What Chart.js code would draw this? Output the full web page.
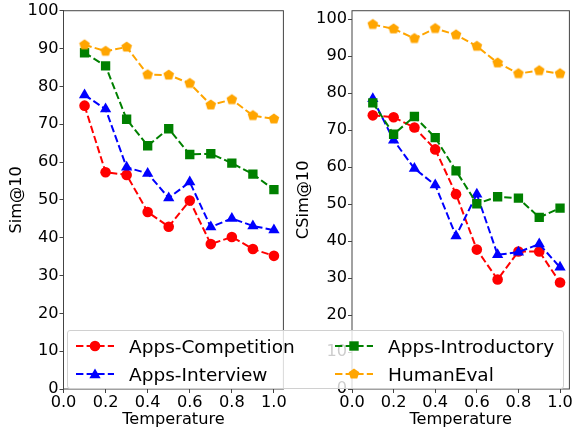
<!DOCTYPE html>
<html lang="en">
<head>
    <meta charset="UTF-8">
    <title>Sim@10 / CSim@10 vs Temperature</title>
    <script src="https://cdn.jsdelivr.net/npm/chart.js"></script>
    <style>
        * { margin: 0; padding: 0; box-sizing: border-box; }
        body { width: 576px; height: 432px; background: #fff; position: relative; overflow: hidden;
               font-family: 'DejaVu Sans', sans-serif; }
        .plot { position: absolute; top: 0; height: 432px; }
        #leftWrap { left: 0; width: 290px; }
        #rightWrap { left: 290px; width: 286px; }
        #legend {
            position: absolute; left: 67px; top: 330px; width: 497px; height: 59px;
            background: rgba(255,255,255,0.8); border: 1px solid #d0d0d0; border-radius: 3px;
        }
        .entry { position: absolute; height: 24px; display: flex; align-items: center; }
        .entry span { font-size: 18.5px; color: #000; margin-left: 15px; white-space: nowrap; }
    </style>
</head>
<body>
    <div class="plot" id="leftWrap"><canvas id="simChart" width="290" height="432"></canvas></div>
    <div class="plot" id="rightWrap"><canvas id="csimChart" width="286" height="432"></canvas></div>
    <div id="legend"></div>

    <script>
        // data
        const temperatures = [0.1, 0.2, 0.3, 0.4, 0.5, 0.6, 0.7, 0.8, 0.9, 1.0];
        const seriesNames = ['Apps-Competition', 'Apps-Interview', 'Apps-Introductory', 'HumanEval'];
        const seriesColors = ['#ff0000', '#0000ff', '#008000', '#ffa500'];
        const seriesMarkers = ['circle', 'triangle', 'rect', 'pentagon'];

        // Sim@10 (left)
        const simCompetition = [74.9, 57.3, 56.6, 46.8, 42.9, 49.8, 38.3, 40.2, 37.0, 35.2];
        const simInterview = [77.7, 74.0, 58.6, 57.0, 50.5, 54.7, 42.8, 45.1, 43.1, 42.0];
        const simIntroductory = [88.9, 85.4, 71.3, 64.3, 68.8, 62.0, 62.2, 59.7, 56.8, 52.7];
        const simHumanEval = [91.0, 89.3, 90.4, 83.1, 83.0, 80.8, 75.1, 76.5, 72.3, 71.4];

        // CSim@10 (right)
        const csimCompetition = [74.0, 73.5, 70.7, 64.8, 52.7, 37.7, 29.6, 37.2, 37.2, 28.8];
        const csimInterview = [78.5, 67.3, 59.6, 55.2, 41.4, 52.7, 36.3, 37.0, 39.2, 32.9];
        const csimIntroductory = [77.4, 68.9, 73.7, 68.0, 59.0, 50.1, 52.0, 51.6, 46.4, 48.9];
        const csimHumanEval = [98.6, 97.4, 94.8, 97.5, 95.8, 92.7, 88.2, 85.3, 86.1, 85.3];

        const xTicks = [0.0, 0.2, 0.4, 0.6, 0.8, 1.0];
        const yTicks = [0, 10, 20, 30, 40, 50, 60, 70, 80, 90, 100];

        const DASH = [7.4, 3.2];
        const FONT = { family: 'DejaVu Sans', size: 16.2 };
        const AXIS_COLOR = '#444';

        function pentagonImage(color, r) {
            const c = document.createElement('canvas');
            const s = Math.ceil(r * 2 + 2);
            c.width = s; c.height = s;
            const g = c.getContext('2d');
            g.fillStyle = color;
            g.beginPath();
            for (let k = 0; k < 5; k++) {
                const a = -Math.PI / 2 + k * 2 * Math.PI / 5;
                g.lineTo(s / 2 + r * Math.cos(a), s / 2 + r * Math.sin(a));
            }
            g.closePath();
            g.fill();
            return c;
        }

        const pointRadius = { circle: 5.3, triangle: 6.5, rect: 6.6, pentagon: 5.6 };

        function makeDatasets(seriesList) {
            return seriesList.map((vals, i) => {
                const m = seriesMarkers[i];
                return {
                    label: seriesNames[i],
                    data: temperatures.map((t, k) => ({ x: t, y: vals[k] })),
                    borderColor: seriesColors[i],
                    backgroundColor: seriesColors[i],
                    borderWidth: 2,
                    borderDash: DASH,
                    pointStyle: m === 'pentagon' ? pentagonImage(seriesColors[i], 5.6) : m,
                    pointRadius: pointRadius[m],
                    pointBorderWidth: 0,
                    pointBackgroundColor: seriesColors[i],
                    tension: 0,
                    order: seriesList.length - i
                };
            });
        }

        const framePlugin = {
            id: 'frame',
            afterDraw(chart) {
                const { ctx, chartArea: a } = chart;
                ctx.save();
                ctx.strokeStyle = AXIS_COLOR;
                ctx.lineWidth = 1;
                ctx.strokeRect(a.left, a.top, a.right - a.left, a.bottom - a.top);
                ctx.restore();
            }
        };

        function makeChart(id, seriesList, yLabel, yMax, yWidth, yTitlePad, padRight) {
            return new Chart(document.getElementById(id), {
                type: 'line',
                data: { datasets: makeDatasets(seriesList) },
                options: {
                    responsive: false,
                    animation: false,
                    events: [],
                    layout: { padding: { top: 8, right: padRight, left: 0, bottom: 0 } },
                    plugins: { legend: { display: false }, tooltip: { enabled: false } },
                    scales: {
                        x: {
                            type: 'linear',
                            min: 0, max: 1.045,
                            afterFit(s) { s.height = 43; },
                            afterBuildTicks(s) { s.ticks = xTicks.map(v => ({ value: v })); },
                            border: { display: false },
                            grid: { drawOnChartArea: false, drawTicks: true, tickLength: 4, color: AXIS_COLOR },
                            ticks: { color: '#000', font: FONT, padding: 0, maxRotation: 0,
                                     callback: v => v.toFixed(1) },
                            title: { display: true, text: 'Temperature', color: '#000', font: FONT,
                                     padding: { top: 0, bottom: 2.4 } }
                        },
                        y: {
                            type: 'linear',
                            min: 0, max: yMax,
                            afterFit(s) { s.width = yWidth; },
                            afterBuildTicks(s) { s.ticks = yTicks.map(v => ({ value: v })); },
                            border: { display: false },
                            grid: { drawOnChartArea: false, drawTicks: true, tickLength: 4, color: AXIS_COLOR },
                            ticks: { color: '#000', font: FONT, padding: 1 },
                            title: { display: true, text: yLabel, color: '#000', font: FONT,
                                     padding: { top: yTitlePad, bottom: 0 } }
                        }
                    }
                },
                plugins: [framePlugin]
            });
        }

        makeChart('simChart', [simCompetition, simInterview, simIntroductory, simHumanEval],
                  'Sim@10', 100, 63.5, 7, 6);
        makeChart('csimChart', [csimCompetition, csimInterview, csimIntroductory, csimHumanEval],
                  'CSim@10', 102.3, 62, 4, 4);

        // legend: two columns spanning both plots
        function markerSvg(m, color) {
            const cx = 19, cy = 12;
            let shape = '';
            if (m === 'circle') shape = `<circle cx="${cx}" cy="${cy}" r="5.3" fill="${color}"/>`;
            else if (m === 'rect') shape = `<rect x="${cx - 4.7}" y="${cy - 4.7}" width="9.4" height="9.4" fill="${color}"/>`;
            else {
                const n = m === 'triangle' ? 3 : 5;
                const r = m === 'triangle' ? 6.5 : 5.6;
                const pts = [];
                for (let k = 0; k < n; k++) {
                    const a = -Math.PI / 2 + k * 2 * Math.PI / n;
                    pts.push((cx + r * Math.cos(a)).toFixed(2) + ',' + (cy + r * Math.sin(a) + (n === 3 ? 1 : 0)).toFixed(2));
                }
                shape = `<polygon points="${pts.join(' ')}" fill="${color}"/>`;
            }
            return `<svg width="38" height="24"><line x1="0" y1="${cy}" x2="38" y2="${cy}" stroke="${color}" stroke-width="2" stroke-dasharray="${DASH.join(' ')}"/>${shape}</svg>`;
        }

        const legendEl = document.getElementById('legend');
        const colX = [8, 267];
        const rowY = [3, 31];
        seriesNames.forEach((name, i) => {
            const col = i < 2 ? 0 : 1;
            const row = i % 2;
            const div = document.createElement('div');
            div.className = 'entry';
            div.style.left = colX[col] + 'px';
            div.style.top = rowY[row] + 'px';
            div.innerHTML = markerSvg(seriesMarkers[i], seriesColors[i]) + `<span>${name}</span>`;
            legendEl.appendChild(div);
        });
    </script>
</body>
</html>
